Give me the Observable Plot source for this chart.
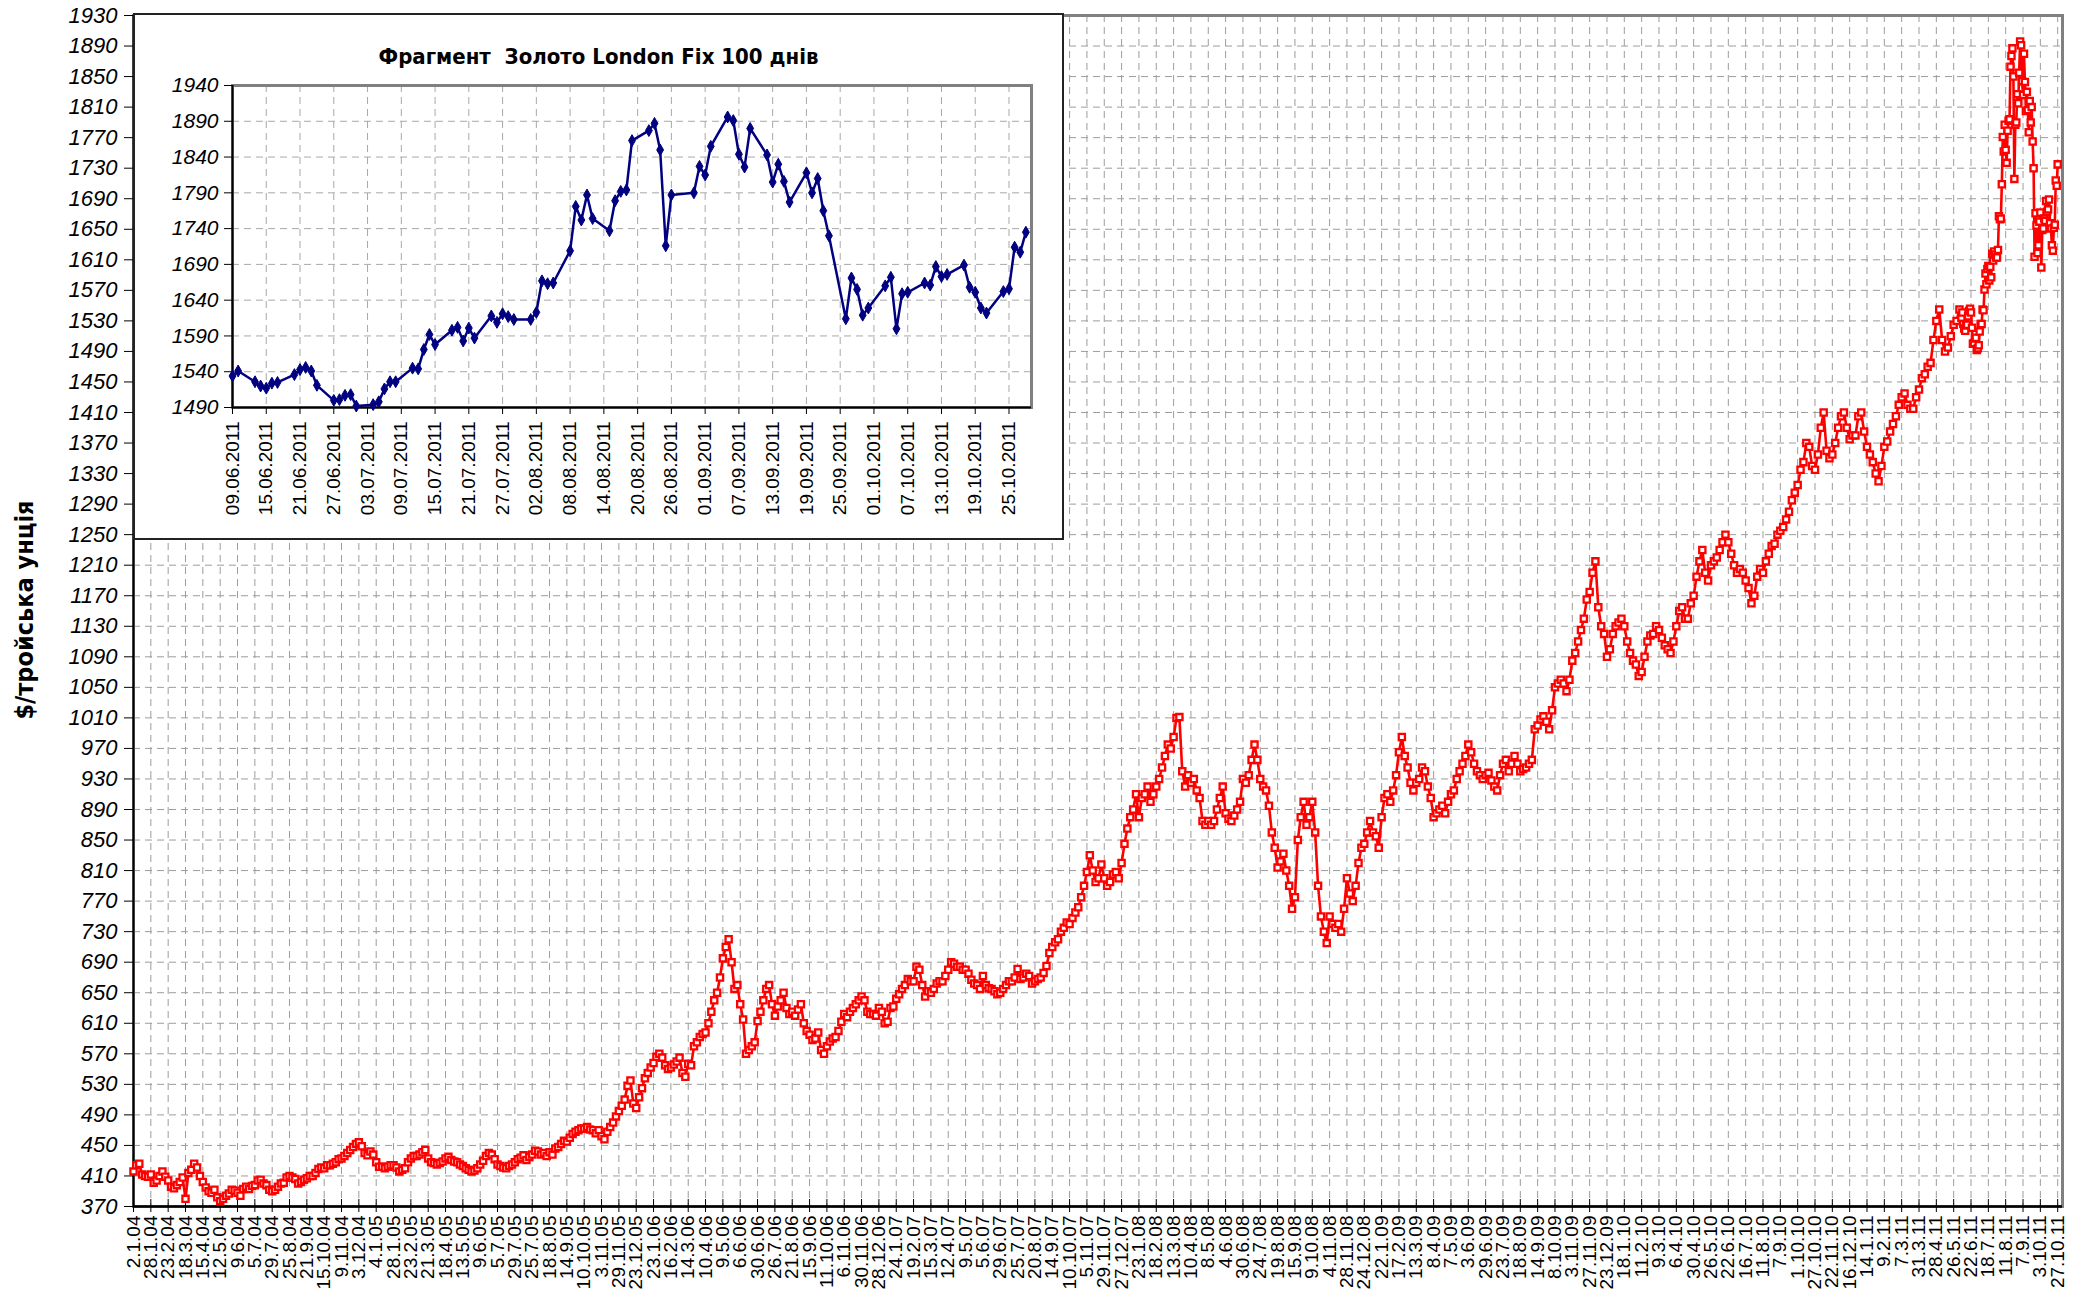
<!DOCTYPE html>
<html><head><meta charset="utf-8">
<script src="https://cdn.jsdelivr.net/npm/d3@7"></script>
<script src="https://cdn.jsdelivr.net/npm/@observablehq/plot@0.6"></script>
<style>
body{margin:0;background:#fff;}
#wrap{position:relative;width:2087px;height:1296px;overflow:hidden;font-family:"Liberation Sans",Arial,sans-serif;background:#fff;}
#wrap svg text{font-family:"Liberation Sans",Arial,sans-serif !important;}
#wrap g[aria-label="y-axis tick label"] text{font-style:italic !important;}
#main{position:absolute;left:0;top:0;}
#inset{position:absolute;left:133px;top:13px;width:931px;height:527px;box-sizing:border-box;border:2px solid #222;background:#fff;}
#insetPlot{position:absolute;left:0;top:0;}
#insetTitle{position:absolute;left:0;width:927px;top:29px;text-align:center;font-weight:bold;font-size:22px;white-space:pre;
  font-family:"Liberation Sans Narrow","Arial Narrow","DejaVu Sans Condensed",sans-serif;font-stretch:condensed;}
#ylab{position:absolute;left:24px;top:610px;transform:translate(-50%,-50%) rotate(-90deg);font-weight:bold;font-size:25px;white-space:nowrap;
  font-family:"Liberation Sans Narrow","Arial Narrow","DejaVu Sans Condensed",sans-serif;font-stretch:condensed;}
</style></head>
<body>
<div id="wrap">
  <div id="main"></div>
  <div id="ylab">$/тройська унція</div>
  <div id="inset"><div id="insetPlot"></div><div id="insetTitle">Фрагмент  Золото London Fix 100 днів</div></div>
</div>
<script>
// ---------- main chart data ----------
const xLabels = ["2.1.04","28.1.04","23.2.04","18.3.04","15.4.04","12.5.04","9.6.04","5.7.04","29.7.04","25.8.04","21.9.04","15.10.04","9.11.04","3.12.04",
"4.1.05","28.1.05","23.2.05","21.3.05","18.4.05","13.5.05","9.6.05","5.7.05","29.7.05","25.7.05","18.8.05","14.9.05","10.10.05","3.11.05","29.11.05","23.12.05",
"23.1.06","16.2.06","14.3.06","10.4.06","9.5.06","6.6.06","30.6.06","26.7.06","21.8.06","15.9.06","11.10.06","6.11.06","30.11.06","28.12.06",
"24.1.07","19.2.07","15.3.07","12.4.07","9.5.07","5.6.07","29.6.07","25.7.07","20.8.07","14.9.07","10.10.07","5.11.07","29.11.07","27.12.07",
"23.1.08","18.2.08","13.3.08","10.4.08","8.5.08","4.6.08","30.6.08","24.7.08","19.8.08","15.9.08","9.10.08","4.11.08","28.11.08","24.12.08",
"22.1.09","17.2.09","13.3.09","8.4.09","7.5.09","3.6.09","29.6.09","23.7.09","18.8.09","14.9.09","8.10.09","3.11.09","27.11.09","23.12.09",
"18.1.10","11.2.10","9.3.10","6.4.10","30.4.10","26.5.10","22.6.10","16.7.10","11.8.10","7.9.10","1.10.10","27.10.10","22.11.10","16.12.10",
"14.1.11","9.2.11","7.3.11","31.3.11","28.4.11","26.5.11","22.6.11","18.7.11","11.8.11","7.9.11","3.10.11","27.10.11"];
const daysPerLabel = 18;
const mainStep = 3;
const yTicks = [370,410,450,490,530,570,610,650,690,730,770,810,850,890,930,970,1010,1050,1090,1130,1170,1210,1250,1290,1330,1370,1410,1450,1490,1530,1570,1610,1650,1690,1730,1770,1810,1850,1890,1930];
// gold fix, every 3rd trading day from 2.1.04 (six values per labelled interval)
const mainVals = [
416,424,426,412,410,409,  412,401,404,410,416,409,  404,396,394,398,402,408,  380,414,418,426,421,410,
402,395,390,388,392,382,  377,380,384,387,392,391,  388,384,393,396,393,397,  398,404,405,400,398,392,
390,392,396,400,401,408,  410,408,406,400,402,405,  407,410,410,414,419,421,  420,424,424,426,428,432,
433,436,440,444,448,452,  454,449,440,437,442,438,
428,422,422,420,422,424,  424,421,416,418,420,428,  433,436,436,438,441,444,  433,428,427,425,427,429,
433,435,431,429,428,425,  423,420,418,416,417,420,  425,430,436,440,438,432,  425,423,421,420,423,425,
428,432,434,437,431,435,  438,443,442,438,440,436,  441,438,446,448,452,456,  455,460,465,468,470,472,
472,474,471,470,466,470,  462,458,468,474,480,488,  495,502,510,528,535,505,  499,513,525,538,545,552,
558,566,570,565,555,550,  552,556,560,565,545,540,  557,555,580,585,592,596,  598,610,625,640,650,670,
695,710,720,690,655,660,  635,615,570,575,580,585,  613,625,640,655,660,635,  620,632,640,650,630,622,
625,620,628,635,610,600,  595,588,590,598,575,570,  580,586,590,592,600,612,  622,618,625,630,635,640,
645,640,625,622,622,620,  630,625,610,612,630,632,
642,648,655,660,668,665,  665,684,680,660,645,652,  650,655,662,665,665,672,  680,690,688,684,684,680,
680,675,667,662,660,655,  672,660,656,655,652,648,  650,655,660,665,665,670,  681,668,670,675,672,662,
665,668,670,676,685,702,  710,716,720,730,735,742,  740,748,755,762,775,790,  808,830,810,795,800,818,
800,790,795,805,808,800,  820,845,865,880,890,910,
880,905,910,920,900,910,  920,930,945,960,975,970,  985,1010,1011,940,920,935,  925,930,915,905,875,870,
875,870,875,890,905,920,  885,878,875,882,890,900,  930,925,935,955,975,955,  930,920,915,895,860,840,
814,822,832,810,790,760,  775,850,880,900,870,880,  900,860,790,750,730,715,  750,740,735,740,730,760,
800,780,770,790,820,840,  845,860,875,860,855,840,
880,905,910,900,915,935,  965,985,960,945,925,915,  925,930,945,940,920,905,  880,885,890,895,885,900,
910,915,930,940,950,960,  975,965,950,940,935,930,  935,938,928,920,915,935,  950,955,940,950,960,950,
940,943,945,950,955,995,  1000,1008,1012,1005,995,1020,  1050,1055,1060,1055,1045,1060,  1085,1095,1110,1125,1140,1165,
1175,1200,1215,1155,1130,1120,  1090,1100,1120,1130,1135,1140,
1130,1110,1095,1085,1080,1065,  1070,1090,1110,1118,1120,1130,  1125,1115,1105,1100,1095,1110,  1130,1150,1155,1140,1140,1160,
1170,1195,1215,1230,1200,1190,  1210,1215,1220,1230,1240,1250,  1240,1225,1210,1200,1205,1200,  1190,1180,1160,1170,1195,1205,
1200,1215,1225,1235,1238,1250,  1255,1260,1270,1280,1295,1305,  1315,1335,1345,1370,1365,1340,  1335,1355,1390,1410,1360,1350,
1355,1370,1390,1405,1410,1390,  1375,1380,1380,1405,1410,1385,
1365,1355,1345,1330,1320,1340,  1365,1372,1385,1395,1405,1420,  1430,1435,1420,1415,1415,1430,  1440,1455,1460,1470,1475,1505,
1530,1545,1505,1490,1495,1510,  1525,1530,1545];

// ---------- inset data (last 100 days, daily) ----------
const insetDates = [
"2011-06-09","2011-06-10","2011-06-13","2011-06-14","2011-06-15","2011-06-16","2011-06-17","2011-06-20","2011-06-21","2011-06-22","2011-06-23","2011-06-24","2011-06-27","2011-06-28","2011-06-29","2011-06-30",
"2011-07-01","2011-07-04","2011-07-05","2011-07-06","2011-07-07","2011-07-08","2011-07-11","2011-07-12","2011-07-13","2011-07-14","2011-07-15","2011-07-18","2011-07-19","2011-07-20","2011-07-21","2011-07-22","2011-07-25","2011-07-26","2011-07-27","2011-07-28","2011-07-29",
"2011-08-01","2011-08-02","2011-08-03","2011-08-04","2011-08-05","2011-08-08","2011-08-09","2011-08-10","2011-08-11","2011-08-12","2011-08-15","2011-08-16","2011-08-17","2011-08-18","2011-08-19","2011-08-22","2011-08-23","2011-08-24","2011-08-25","2011-08-26","2011-08-30","2011-08-31",
"2011-09-01","2011-09-02","2011-09-05","2011-09-06","2011-09-07","2011-09-08","2011-09-09","2011-09-12","2011-09-13","2011-09-14","2011-09-15","2011-09-16","2011-09-19","2011-09-20","2011-09-21","2011-09-22","2011-09-23","2011-09-26","2011-09-27","2011-09-28","2011-09-29","2011-09-30",
"2011-10-03","2011-10-04","2011-10-05","2011-10-06","2011-10-07","2011-10-10","2011-10-11","2011-10-12","2011-10-13","2011-10-14","2011-10-17","2011-10-18","2011-10-19","2011-10-20","2011-10-21","2011-10-24","2011-10-25","2011-10-26","2011-10-27","2011-10-28"];
const insetVals = [
1534,1541,1526,1520,1517,1524,1525,1536,1543,1546,1541,1521,1500,1501,1507,1508,
1492,1494,1498,1516,1526,1526,1545,1544,1571,1592,1578,1598,1602,1583,1601,1587,1618,1609,1621,1617,1613,
1613,1623,1667,1663,1664,1709,1771,1752,1787,1754,1737,1779,1792,1794,1863,1877,1887,1850,1716,1787,1790,1827,
1815,1855,1896,1891,1844,1826,1880,1843,1805,1830,1806,1777,1818,1790,1810,1765,1730,1614,1671,1655,1619,1629,
1660,1672,1600,1649,1651,1664,1661,1687,1673,1676,1689,1658,1651,1629,1622,1652,1656,1714,1707,1735];
const insetXLabels = ["09.06.2011","15.06.2011","21.06.2011","27.06.2011","03.07.2011","09.07.2011","15.07.2011","21.07.2011","27.07.2011","02.08.2011","08.08.2011","14.08.2011",
"20.08.2011","26.08.2011","01.09.2011","07.09.2011","13.09.2011","19.09.2011","25.09.2011","01.10.2011","07.10.2011","13.10.2011","19.10.2011","25.10.2011"];
const insetYTicks = [1490,1540,1590,1640,1690,1740,1790,1840,1890,1940];
const insetXDomain = ["2011-06-09","2011-10-29"];

// ---------- build ----------
const lastIdx = (xLabels.length - 1) * daysPerLabel;
const series = mainVals.map((v, j) => ({i: j * mainStep, v}))
  .concat(insetVals.map((v, k) => ({i: lastIdx - (insetVals.length - 1) + k, v})));
const xTickIdx = xLabels.map((_, k) => k * daysPerLabel);
const font = '"Liberation Sans", Arial, sans-serif';
const gridColor = "#9c9c9c";

const mainPlot = Plot.plot({
  width: 2087, height: 1296,
  marginLeft: 133, marginRight: 25, marginTop: 15, marginBottom: 90,
  x: {domain: [0, lastIdx + 5], label: null},
  y: {domain: [370, 1930], label: null},
  style: {fontFamily: font, background: "#fff", color: "#000", overflow: "visible"},
  marks: [
    Plot.ruleY(yTicks, {stroke: gridColor, strokeDasharray: "7,5"}),
    Plot.ruleX(xTickIdx, {stroke: gridColor, strokeDasharray: "7,5"}),
    Plot.frame({stroke: "#808080", strokeWidth: 3}),
    Plot.axisY({ticks: yTicks, label: null, tickSize: 9, tickPadding: 7, fontSize: 22, fontStyle: "italic", tickFormat: d => String(d)}),
    Plot.axisX({ticks: xTickIdx, label: null, tickSize: 6, tickPadding: 3, tickRotate: -90, fontSize: 19,
      tickFormat: d => xLabels[Math.round(d / daysPerLabel)]}),
    Plot.tickX(xTickIdx, {stroke: "#000", insetTop: 1184}),
    Plot.ruleX([0], {stroke: "#000", strokeWidth: 2}),
    Plot.ruleY([370], {stroke: "#000", strokeWidth: 2.5}),
    Plot.line(series, {x: "i", y: "v", stroke: "#ff0000", strokeWidth: 2.6}),
    Plot.dot(series, {x: "i", y: "v", symbol: "square", r: 3.5, stroke: "#ff0000", strokeWidth: 2.3, fill: "#fff"})
  ]
});
document.getElementById("main").appendChild(mainPlot);

const parseLabel = s => { const [d, m, y] = s.split(".").map(Number); return new Date(Date.UTC(y, m - 1, d)); };
const insetTickDates = insetXLabels.map(parseLabel);
const insetData = insetDates.map((d, k) => ({d: new Date(d + "T00:00:00Z"), v: insetVals[k]}));
const insetPlot = Plot.plot({
  width: 927, height: 523,
  marginLeft: 97, marginRight: 31, marginTop: 70, marginBottom: 131,
  x: {type: "utc", domain: insetXDomain.map(d => new Date(d + "T00:00:00Z")), label: null},
  y: {domain: [1490, 1940], label: null},
  style: {fontFamily: font, background: "transparent", color: "#000", overflow: "visible"},
  marks: [
    Plot.ruleY(insetYTicks, {stroke: "#a8a8a8", strokeDasharray: "7,5"}),
    Plot.ruleX(insetTickDates, {stroke: "#a8a8a8", strokeDasharray: "7,5"}),
    Plot.frame({stroke: "#808080", strokeWidth: 3}),
    Plot.axisY({ticks: insetYTicks, label: null, tickSize: 8, tickPadding: 6, fontSize: 21, fontStyle: "italic", tickFormat: d => String(d)}),
    Plot.axisX({ticks: insetTickDates, label: null, tickSize: 7, tickPadding: 7, tickRotate: -90, fontSize: 19,
      tickFormat: d => insetXLabels[insetTickDates.findIndex(t => +t === +d)]}),
    Plot.ruleX([insetTickDates[0]], {stroke: "#000", strokeWidth: 2}),
    Plot.ruleY([1490], {stroke: "#000", strokeWidth: 2}),
    Plot.line(insetData, {x: "d", y: "v", stroke: "#000080", strokeWidth: 2.5}),
    Plot.dot(insetData, {x: "d", y: "v", symbol: "diamond", r: 3.6, fill: "#000080", stroke: "#000080", strokeWidth: 1})
  ]
});
document.getElementById("insetPlot").appendChild(insetPlot);
</script>
</body></html>
